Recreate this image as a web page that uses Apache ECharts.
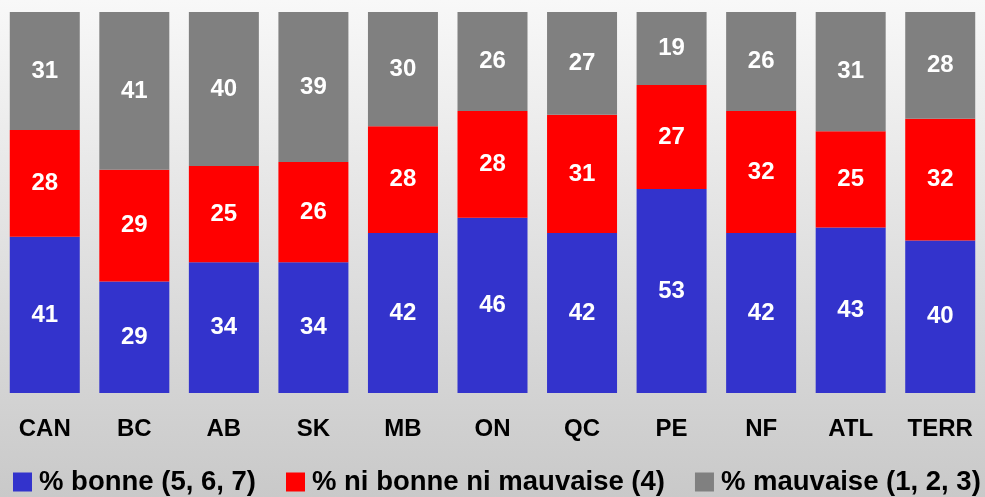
<!DOCTYPE html>
<html>
<head>
<meta charset="utf-8">
<script src="https://cdn.jsdelivr.net/npm/echarts@6/dist/echarts.min.js"></script>
<style>
  html, body { margin: 0; padding: 0; }
  #chart { width: 985px; height: 497px; }
</style>
</head>
<body>
<div id="chart"></div>
<script>
// regions
const categories = ['CAN', 'BC', 'AB', 'SK', 'MB', 'ON', 'QC', 'PE', 'NF', 'ATL', 'TERR'];
// % answers by rating
const bonne = [41, 29, 34, 34, 42, 46, 42, 53, 42, 43, 40];
const niBonneNiMauvaise = [28, 29, 25, 26, 28, 28, 31, 27, 32, 25, 32];
const mauvaise = [31, 41, 40, 39, 30, 26, 27, 19, 26, 31, 28];

const seriesNames = ['% bonne (5, 6, 7)', '% ni bonne ni mauvaise (4)', '% mauvaise (1, 2, 3)'];
const colors = ['#3333cc', '#ff0000', '#808080'];

// 100% stacked: each bar is scaled to its own total, labels keep the raw value
const totals = categories.map((c, i) => bonne[i] + niBonneNiMauvaise[i] + mauvaise[i]);
function toShare (arr) {
  return arr.map((v, i) => ({ value: v / totals[i] * 100, raw: v }));
}

const font = 'Liberation Sans, Arial, sans-serif';

const chart = echarts.init(document.getElementById('chart'));
const option = {
  backgroundColor: new echarts.graphic.LinearGradient(0, 0, 0, 1, [
    { offset: 0, color: '#f8f8f8' },
    { offset: 1, color: '#c9c9c9' }
  ]),
  animation: false,
  textStyle: { fontFamily: font },
  grid: { left: 0, right: 0, top: 12, bottom: 104, containLabel: false },
  legend: {
    left: 13,
    top: 468,
    width: 1100,
    padding: 0,
    itemWidth: 19,
    itemHeight: 19,
    itemGap: 30,
    icon: 'rect',
    textStyle: {
      fontFamily: font,
      fontSize: 27.5,
      fontWeight: 'bold',
      color: '#000',
      padding: [0, 0, 0, 2]
    },
    data: seriesNames
  },
  xAxis: {
    type: 'category',
    data: categories,
    axisLine: { show: false },
    axisTick: { show: false },
    axisLabel: { fontSize: 24, fontWeight: 'bold', color: '#000', margin: 24 }
  },
  yAxis: {
    type: 'value',
    min: 0,
    max: 100,
    show: false,
    splitLine: { show: false }
  },
  series: [bonne, niBonneNiMauvaise, mauvaise].map((arr, k) => ({
    name: seriesNames[k],
    type: 'bar',
    stack: 'total',
    barWidth: 70,
    data: toShare(arr),
    itemStyle: { color: colors[k] },
    label: {
      show: true,
      position: 'inside',
      color: '#fff',
      fontSize: 24,
      fontWeight: 'bold',
      formatter: p => p.data.raw
    }
  }))
};
chart.setOption(option);
</script>
</body>
</html>
